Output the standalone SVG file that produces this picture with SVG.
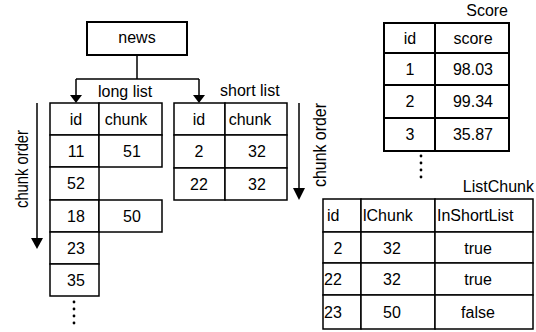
<svg xmlns="http://www.w3.org/2000/svg" width="536" height="332" viewBox="0 0 536 332">
<defs>
<style>
text{font-family:"Liberation Sans",Arial,sans-serif;font-size:16px;fill:#000}
.c{text-anchor:middle}
.e{text-anchor:end}
.rot{font-size:18px}
.cell{fill:#fff;stroke:#000;stroke-width:1.5}
.thick{fill:#fff;stroke:#000;stroke-width:2}
.ln{fill:none;stroke:#000;stroke-width:1.5}
.dot{fill:#000}
</style>
</defs>
<rect width="536" height="332" fill="#fff"/>

<g id="connectors">
<path class="ln" d="M137,55 V79 M76,79 H199"/>
<path class="ln" d="M76,79 V95"/>
<path d="M70,95 L82,95 L76,103 Z" fill="#000"/>
<path class="ln" d="M199,79 V95"/>
<path d="M193,95 L205,95 L199,103 Z" fill="#000"/>
</g>

<g id="news">
<rect class="thick" x="87" y="22" width="100" height="33"/>
<text class="c" x="137" y="43">news</text>
</g>

<g id="chunk-order-left">
<path class="ln" d="M37,103 V240"/>
<path d="M31,238 L43,238 L37,249 Z" fill="#000"/>
<text class="c rot" transform="rotate(-90 28 169)" x="28" y="169" textLength="78" lengthAdjust="spacingAndGlyphs">chunk order</text>
</g>

<g id="long-list">
<text x="98" y="97">long list</text>
<rect class="cell" x="50" y="103" width="49" height="32"/>
<rect class="cell" x="99" y="103" width="63" height="32"/>
<rect class="cell" x="50" y="135" width="49" height="32"/>
<rect class="cell" x="99" y="135" width="63" height="32"/>
<rect class="cell" x="50" y="167" width="49" height="33"/>
<rect class="cell" x="50" y="200" width="49" height="32"/>
<rect class="cell" x="99" y="200" width="63" height="32"/>
<rect class="cell" x="50" y="232" width="49" height="32"/>
<rect class="cell" x="50" y="264" width="49" height="32"/>
<text class="c" x="76" y="125">id</text>
<text class="c" x="126" y="125">chunk</text>
<text class="c" x="76" y="157">11</text>
<text class="c" x="132" y="157">51</text>
<text class="c" x="76" y="189">52</text>
<text class="c" x="76" y="222">18</text>
<text class="c" x="132" y="222">50</text>
<text class="c" x="76" y="254">23</text>
<text class="c" x="76" y="286">35</text>
<circle class="dot" cx="74" cy="302" r="1.4"/>
<circle class="dot" cx="74" cy="309" r="1.4"/>
<circle class="dot" cx="74" cy="316" r="1.4"/>
<circle class="dot" cx="74" cy="323" r="1.4"/>
</g>

<g id="short-list">
<text x="220" y="96">short list</text>
<rect class="cell" x="174" y="103" width="51" height="32"/>
<rect class="cell" x="225" y="103" width="62" height="32"/>
<rect class="cell" x="174" y="135" width="51" height="33"/>
<rect class="cell" x="225" y="135" width="62" height="33"/>
<rect class="cell" x="174" y="168" width="51" height="32"/>
<rect class="cell" x="225" y="168" width="62" height="32"/>
<text class="c" x="199" y="125">id</text>
<text class="c" x="250" y="125">chunk</text>
<text class="c" x="199" y="157">2</text>
<text class="c" x="257" y="157">32</text>
<text class="c" x="199" y="190">22</text>
<text class="c" x="257" y="190">32</text>
</g>

<g id="chunk-order-right">
<path class="ln" d="M299,103 V190"/>
<path d="M293,188 L305,188 L299,200 Z" fill="#000"/>
<text class="c rot" transform="rotate(-90 326 145)" x="326" y="145" textLength="84" lengthAdjust="spacingAndGlyphs">chunk order</text>
</g>

<g id="score">
<text class="e" x="508" y="16">Score</text>
<rect class="thick" x="384" y="23" width="51" height="30"/>
<rect class="thick" x="435" y="23" width="74" height="30"/>
<rect class="thick" x="384" y="53" width="51" height="32"/>
<rect class="thick" x="435" y="53" width="74" height="32"/>
<rect class="thick" x="384" y="85" width="51" height="33"/>
<rect class="thick" x="435" y="85" width="74" height="33"/>
<rect class="thick" x="384" y="118" width="51" height="33"/>
<rect class="thick" x="435" y="118" width="74" height="33"/>
<text class="c" x="410" y="44">id</text>
<text class="c" x="473" y="44">score</text>
<text class="c" x="410" y="75">1</text>
<text class="c" x="473" y="75">98.03</text>
<text class="c" x="410" y="107">2</text>
<text class="c" x="473" y="107">99.34</text>
<text class="c" x="410" y="140">3</text>
<text class="c" x="473" y="140">35.87</text>
<circle class="dot" cx="421" cy="156" r="1.4"/>
<circle class="dot" cx="421" cy="163" r="1.4"/>
<circle class="dot" cx="421" cy="170" r="1.4"/>
<circle class="dot" cx="421" cy="177" r="1.4"/>
</g>

<g id="listchunk">
<text class="e" x="534" y="192">ListChunk</text>
<rect class="cell" x="323" y="199" width="38" height="33"/>
<rect class="cell" x="361" y="199" width="74" height="33"/>
<rect class="cell" x="435" y="199" width="98" height="33"/>
<rect class="cell" x="323" y="232" width="38" height="31"/>
<rect class="cell" x="361" y="232" width="74" height="31"/>
<rect class="cell" x="435" y="232" width="98" height="31"/>
<rect class="cell" x="323" y="263" width="38" height="32"/>
<rect class="cell" x="361" y="263" width="74" height="32"/>
<rect class="cell" x="435" y="263" width="98" height="32"/>
<rect class="cell" x="323" y="295" width="38" height="34"/>
<rect class="cell" x="361" y="295" width="74" height="34"/>
<rect class="cell" x="435" y="295" width="98" height="34"/>
<text x="327" y="221">id</text>
<text x="363" y="221">lChunk</text>
<text x="437" y="221">InShortList</text>
<text class="c" x="338" y="254">2</text>
<text class="c" x="392" y="254">32</text>
<text class="c" x="478" y="254">true</text>
<text x="324" y="285">22</text>
<text class="c" x="392" y="285">32</text>
<text class="c" x="478" y="285">true</text>
<text x="324" y="318">23</text>
<text class="c" x="392" y="318">50</text>
<text class="c" x="478" y="318">false</text>
</g>
</svg>
